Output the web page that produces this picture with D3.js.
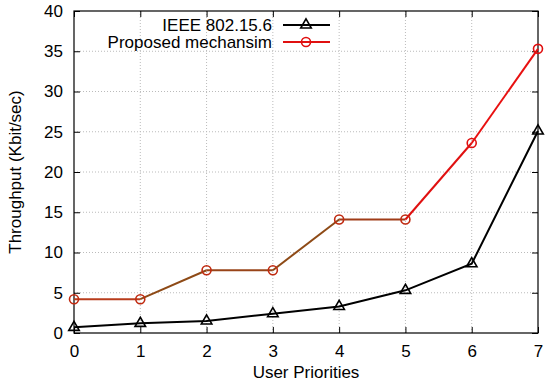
<!DOCTYPE html>
<html>
<head>
<meta charset="utf-8">
<script src="https://cdn.jsdelivr.net/npm/d3@7"></script>
<style>
body { margin: 0; background: #fff; }
text { font-family: "Liberation Sans", Arial, sans-serif; }
</style>
</head>
<body>
<script>
var priorities = [0, 1, 2, 3, 4, 5, 6, 7];
var ieee = [0.7, 1.2, 1.5, 2.4, 3.3, 5.3, 8.6, 25.1];
var proposed = [4.2, 4.2, 7.8, 7.8, 14.1, 14.1, 23.6, 35.3];
var proposedSegColors = ["#b83c1c", "#8e4a16", "#984418", "#8e4a16", "#a03c18", "#e01010", "#e81010"];
var yTicks = [0, 5, 10, 15, 20, 25, 30, 35, 40];
var seriesNames = ["IEEE 802.15.6", "Proposed mechansim"];

var chartW = 550, chartH = 388;
var plotL = 74, plotR = 538, plotT = 11, plotB = 333;

var svg = d3.select("body")
			.append("svg")
			.attr("width", chartW)
			.attr("height", chartH);

var x = d3.scaleLinear().domain([0, 7]).range([plotL, plotR]);
var y = d3.scaleLinear().domain([0, 40]).range([plotB, plotT]);

// grid
var grid = svg.append("g").attr("id", "grid");
grid.selectAll("line.gx")
	.data(priorities.slice(1, -1))
	.enter()
	.append("line")
	.attr("x1", function(d){return x(d)})
	.attr("x2", function(d){return x(d)})
	.attr("y1", plotT)
	.attr("y2", plotB)
	.attr("stroke", "#bbbbbb")
	.attr("stroke-width", 1)
	.attr("stroke-dasharray", "1,2");
grid.selectAll("line.gy")
	.data(yTicks.slice(1, -1))
	.enter()
	.append("line")
	.attr("x1", plotL)
	.attr("x2", plotR)
	.attr("y1", function(d){return y(d)})
	.attr("y2", function(d){return y(d)})
	.attr("stroke", "#bbbbbb")
	.attr("stroke-width", 1)
	.attr("stroke-dasharray", "1,2");

// axes (ticks inward on all sides)
var fs = 17;
var xAxis = svg.append("g")
	.attr("transform", "translate(0," + plotB + ")")
	.call(d3.axisBottom(x).tickValues(priorities).tickSizeInner(-6).tickSizeOuter(0).tickPadding(12).tickFormat(d3.format("d")));
var xTop = svg.append("g")
	.attr("transform", "translate(0," + plotT + ")")
	.call(d3.axisTop(x).tickValues(priorities).tickSizeInner(-6).tickSizeOuter(0).tickFormat(""));
var yAxis = svg.append("g")
	.attr("transform", "translate(" + plotL + ",0)")
	.call(d3.axisLeft(y).tickValues(yTicks).tickSizeInner(-6).tickSizeOuter(0).tickPadding(11).tickFormat(d3.format("d")));
var yRight = svg.append("g")
	.attr("transform", "translate(" + plotR + ",0)")
	.call(d3.axisRight(y).tickValues(yTicks).tickSizeInner(-6).tickSizeOuter(0).tickFormat(""));

[xAxis, xTop, yAxis, yRight].forEach(function(a){
	a.select(".domain").remove();
	a.selectAll("line").attr("stroke", "#000").attr("stroke-width", 1);
	a.selectAll("text").attr("font-size", fs).attr("fill", "#000")
		.style("font-family", "'Liberation Sans', Arial, sans-serif");
});

svg.append("rect")
	.attr("x", plotL)
	.attr("y", plotT)
	.attr("width", plotR - plotL)
	.attr("height", plotB - plotT)
	.attr("fill", "none")
	.attr("stroke", "#000")
	.attr("stroke-width", 1.2);

// axis titles
svg.append("text")
	.attr("x", (plotL + plotR) / 2)
	.attr("y", 378)
	.attr("text-anchor", "middle")
	.attr("font-size", fs)
	.text("User Priorities");
svg.append("text")
	.attr("transform", "translate(21," + ((plotT + plotB) / 2) + ") rotate(-90)")
	.attr("text-anchor", "middle")
	.attr("font-size", fs)
	.text("Throughput (Kbit/sec)");

// proposed series
var segs = d3.pairs(priorities.map(function(p, i){return [p, proposed[i]]}));
svg.append("g")
	.selectAll("line")
	.data(segs)
	.enter()
	.append("line")
	.attr("x1", function(d){return x(d[0][0])})
	.attr("y1", function(d){return y(d[0][1])})
	.attr("x2", function(d){return x(d[1][0])})
	.attr("y2", function(d){return y(d[1][1])})
	.attr("stroke", function(d, i){return proposedSegColors[i]})
	.attr("stroke-width", 2);
svg.append("g")
	.selectAll("circle")
	.data(proposed)
	.enter()
	.append("circle")
	.attr("cx", function(d, i){return x(priorities[i])})
	.attr("cy", function(d){return y(d)})
	.attr("r", 4.5)
	.attr("fill", "none")
	.attr("stroke", function(d, i){return i < 6 ? "#c02a10" : "#e01010"})
	.attr("stroke-width", 1.6);

// ieee series
var line = d3.line()
	.x(function(d, i){return x(priorities[i])})
	.y(function(d){return y(d)});
svg.append("path")
	.datum(ieee)
	.attr("d", line)
	.attr("fill", "none")
	.attr("stroke", "#000")
	.attr("stroke-width", 2);
var tri = d3.symbol().type(d3.symbolTriangle).size(48);
svg.append("g")
	.selectAll("path")
	.data(ieee)
	.enter()
	.append("path")
	.attr("d", tri)
	.attr("transform", function(d, i){return "translate(" + x(priorities[i]) + "," + y(d) + ")"})
	.attr("fill", "none")
	.attr("stroke", "#000")
	.attr("stroke-width", 1.6);

// legend
var legend = svg.append("g").attr("id", "legend");
var legendRows = [25, 42];
var legendColors = ["#000", "#e01010"];
legend.selectAll("text")
	.data(seriesNames)
	.enter()
	.append("text")
	.attr("x", 272)
	.attr("y", function(d, i){return legendRows[i] + 6})
	.attr("text-anchor", "end")
	.attr("font-size", fs)
	.text(function(d){return d});
legend.selectAll("line")
	.data(seriesNames)
	.enter()
	.append("line")
	.attr("x1", 283)
	.attr("x2", 330)
	.attr("y1", function(d, i){return legendRows[i]})
	.attr("y2", function(d, i){return legendRows[i]})
	.attr("stroke", function(d, i){return legendColors[i]})
	.attr("stroke-width", 2);
legend.append("path")
	.attr("d", tri)
	.attr("transform", "translate(306," + legendRows[0] + ")")
	.attr("fill", "none")
	.attr("stroke", "#000")
	.attr("stroke-width", 1.6);
legend.append("circle")
	.attr("cx", 306)
	.attr("cy", legendRows[1])
	.attr("r", 4.5)
	.attr("fill", "none")
	.attr("stroke", "#e01010")
	.attr("stroke-width", 1.6);
</script>
</body>
</html>
